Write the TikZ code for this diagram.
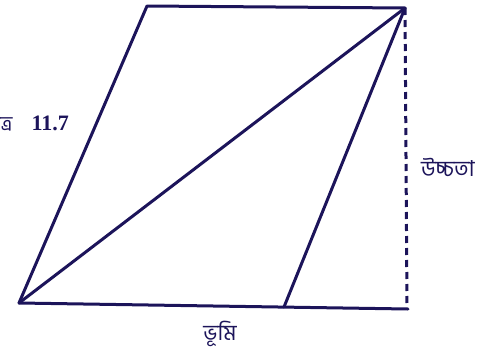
\documentclass[tikz,border=0pt]{standalone}
\usepackage{fontspec}
\newfontfamily\bnfont[Script=Bengali]{Hind Siliguri}
\newfontfamily\numfont{Liberation Serif}
\definecolor{ink}{RGB}{28,20,90}
\begin{document}
\begin{tikzpicture}[x=1pt,y=-1pt,
  edge/.style={draw=ink,line width=3pt,line join=round,line cap=round},
  dashedge/.style={draw=ink,line width=3pt,dash pattern=on 7pt off 5pt},
  lbl/.style={text=ink,inner sep=0pt}]
\useasboundingbox (0,0) rectangle (490,354);
\coordinate (A) at (19,303);
\coordinate (B) at (284,307);
\coordinate (C) at (405,8);
\coordinate (D) at (147,6);
\coordinate (E) at (408,309);
\coordinate (F) at (407,305);
\draw[edge] (A) -- (D) -- (C) -- (B);
\draw[edge] (A) -- (E);
\draw[edge] (A) -- (C);
\draw[dashedge] (C) -- (F);
\begin{scope}
\clip (0,0) rectangle (490,354);
\node[lbl,anchor=east] (fig) at (69,122) {\bnfont\fontsize{20}{22}\selectfont চিত্র\hspace{19pt}\numfont\bfseries\fontsize{22}{24}\selectfont 11.7};
\end{scope}
\node[lbl,anchor=west] (h) at (421,167) {\bnfont\fontsize{22}{26}\selectfont উচ্চতা};
\node[lbl] (b) at (220,334) {\bnfont\fontsize{22}{26}\selectfont ভূমি};
\end{tikzpicture}
\end{document}
